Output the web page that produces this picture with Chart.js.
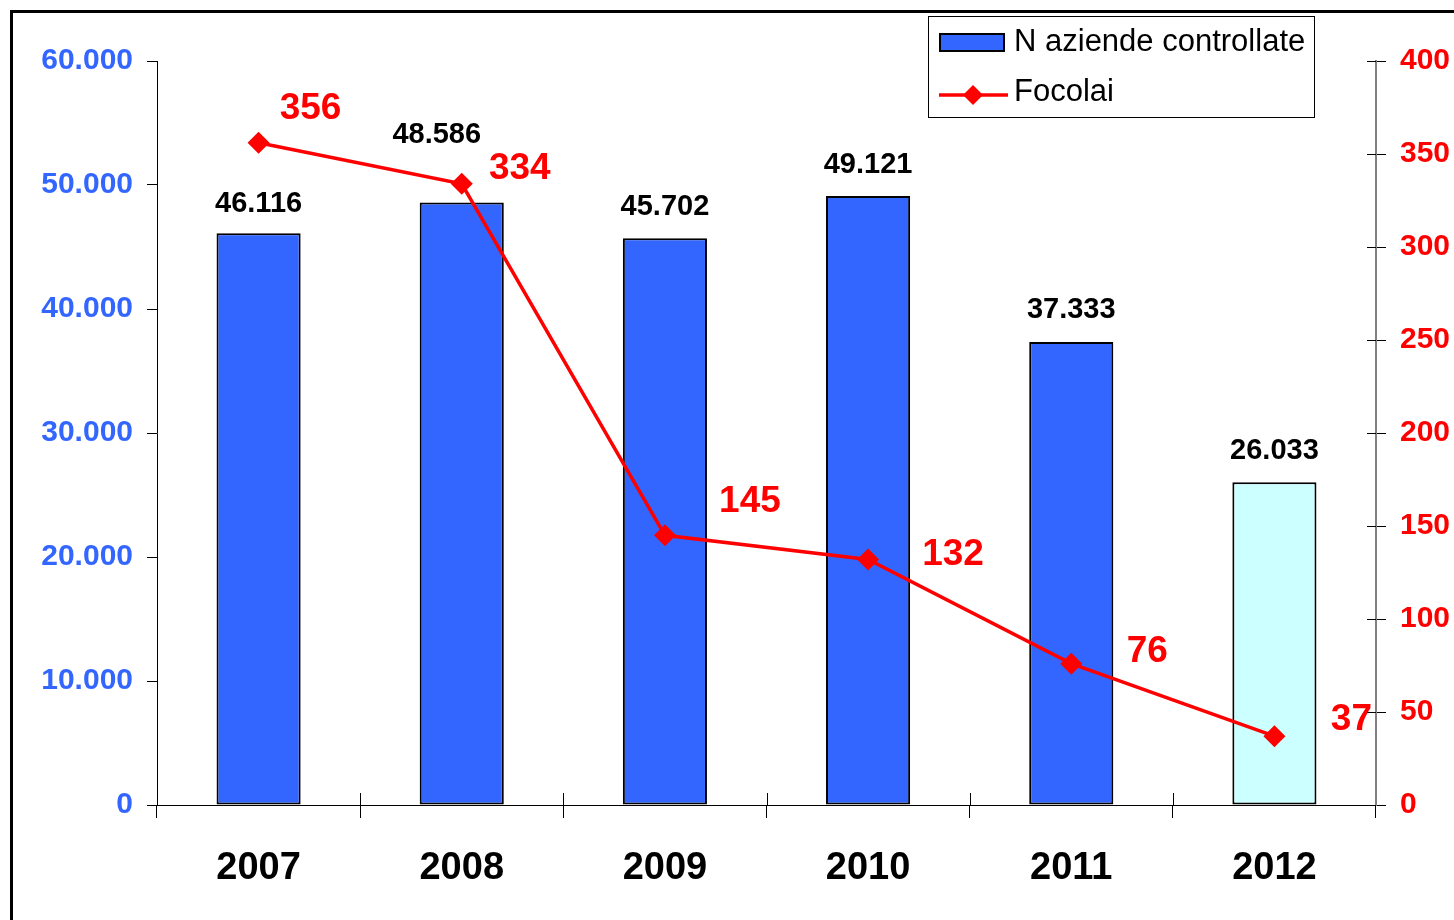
<!DOCTYPE html>
<html>
<head>
<meta charset="utf-8">
<script src="https://cdn.jsdelivr.net/npm/chart.js@4.4.1/dist/chart.umd.min.js"></script>
<style>
  html, body { margin: 0; padding: 0; background: #fff; }
  #wrap { width: 1454px; height: 920px; position: relative; }
</style>
</head>
<body>
<div id="wrap"><canvas id="c" width="1454" height="920"></canvas></div>
<script>
"use strict";

// ── Data ──────────────────────────────────────────────────────────────
const years     = ['2007', '2008', '2009', '2010', '2011', '2012'];
const aziende   = [46116, 48586, 45702, 49121, 37333, 26033];
const focolai   = [356, 334, 145, 132, 76, 37];
const leftTicks  = [0, 10000, 20000, 30000, 40000, 50000, 60000];
const rightTicks = [0, 50, 100, 150, 200, 250, 300, 350, 400];

// label nudges (px) relative to bar top / point centre
const barLabelOff  = [[0, -29], [-25, -68], [0, -31], [0, -31], [0, -32], [0, -31]];
const lineLabelOff = [[52, -34], [58, -15], [85, -34], [85, -5], [76, -12], [77, -16]];

const BLUE = '#3366ff';
const RED  = '#ff0000';
const FONT = '"Liberation Sans", Arial, sans-serif';

const fmt = v => String(v).replace(/\B(?=(\d{3})+(?!\d))/g, '.');

// ── Plugins ───────────────────────────────────────────────────────────
const decor = {
  id: 'decor',
  afterDatasetsDraw(chart) {
    const { ctx } = chart;
    ctx.save();
    // bar value labels
    ctx.font = 'bold 29px ' + FONT;
    ctx.fillStyle = '#000';
    ctx.textAlign = 'center';
    ctx.textBaseline = 'middle';
    chart.getDatasetMeta(0).data.forEach((el, i) => {
      const [dx, dy] = barLabelOff[i];
      ctx.fillText(fmt(aziende[i]), el.x + dx, el.y + dy);
    });
    // line value labels
    ctx.font = 'bold 37px ' + FONT;
    ctx.fillStyle = RED;
    chart.getDatasetMeta(1).data.forEach((el, i) => {
      const [dx, dy] = lineLabelOff[i];
      ctx.fillText(String(focolai[i]), el.x + dx, el.y + dy);
    });
    ctx.restore();
  },
  afterDraw(chart) {
    const { ctx } = chart;
    ctx.save();
    // outer frame
    ctx.strokeStyle = '#000';
    ctx.lineWidth = 3;
    ctx.beginPath();
    ctx.moveTo(11.5, 930); ctx.lineTo(11.5, 11.5); ctx.lineTo(1470, 11.5);
    ctx.stroke();

    // legend
    ctx.fillStyle = '#fff';
    ctx.fillRect(928, 16, 386, 101);
    ctx.lineWidth = 1;
    ctx.strokeRect(928.5, 16.5, 386, 101);
    ctx.fillStyle = BLUE;
    ctx.fillRect(940, 34, 64, 17);
    ctx.lineWidth = 2;
    ctx.strokeRect(940, 34, 64, 17);
    ctx.strokeStyle = RED;
    ctx.lineWidth = 3.5;
    ctx.beginPath(); ctx.moveTo(939, 95); ctx.lineTo(1008, 95); ctx.stroke();
    ctx.fillStyle = RED;
    ctx.beginPath();
    ctx.moveTo(973, 85); ctx.lineTo(983, 95); ctx.lineTo(973, 105); ctx.lineTo(963, 95);
    ctx.closePath(); ctx.fill();
    ctx.fillStyle = '#000';
    ctx.font = '31px ' + FONT;
    ctx.textAlign = 'left';
    ctx.textBaseline = 'middle';
    ctx.fillText('N aziende controllate', 1014, 42);
    ctx.fillText('Focolai', 1014, 92);

    // right-axis ticks crossing inward
    const y1 = chart.scales.y1;
    ctx.strokeStyle = '#000';
    ctx.lineWidth = 1;
    rightTicks.forEach(v => {
      const yp = Math.round(y1.getPixelForValue(v)) + 0.5;
      ctx.beginPath(); ctx.moveTo(y1.left - 9, yp); ctx.lineTo(y1.left, yp); ctx.stroke();
    });
    // x ticks crossing upward
    const base = chart.chartArea.bottom;
    for (let i = 1; i < years.length; i++) {
      const xp = Math.round(chart.chartArea.left + i * chart.chartArea.width / years.length) + 0.5;
      ctx.beginPath(); ctx.moveTo(xp, base - 12); ctx.lineTo(xp, base); ctx.stroke();
    }
    ctx.restore();
  }
};

// ── Chart ─────────────────────────────────────────────────────────────
const chart = new Chart(document.getElementById('c'), {
  data: {
    labels: years,
    datasets: [
      {
        type: 'bar',
        label: 'N aziende controllate',
        data: aziende,
        yAxisID: 'y',
        backgroundColor: aziende.map((v, i) => i === aziende.length - 1 ? '#ccffff' : BLUE),
        borderColor: '#000',
        borderWidth: 2,
        borderSkipped: false,
        barPercentage: 0.414,
        categoryPercentage: 1,
        order: 2
      },
      {
        type: 'line',
        label: 'Focolai',
        data: focolai,
        yAxisID: 'y1',
        borderColor: RED,
        backgroundColor: RED,
        borderWidth: 3.5,
        pointStyle: 'rectRot',
        pointRadius: 11,
        pointBorderWidth: 0,
        tension: 0,
        order: 1
      }
    ]
  },
  options: {
    responsive: false,
    animation: false,
    layout: { padding: { top: 61, left: 0, right: 0, bottom: 0 } },
    plugins: { legend: { display: false }, tooltip: { enabled: false } },
    scales: {
      x: {
        offset: true,
        grid: { offset: true, drawOnChartArea: false, color: '#000', tickLength: 13, lineWidth: 1 },
        border: { color: '#000', width: 1 },
        ticks: { color: '#000', font: { family: FONT, size: 38, weight: 'bold' }, padding: 28, maxRotation: 0 },
        afterFit: s => { s.height = 115; }
      },
      y: {
        position: 'left',
        min: 0, max: 60000,
        afterBuildTicks: s => { s.ticks = leftTicks.map(v => ({ value: v })); },
        grid: { drawOnChartArea: false, color: '#000', tickLength: 10 },
        border: { color: '#000', width: 1 },
        ticks: { color: BLUE, font: { family: FONT, size: 30, weight: 'bold' }, padding: 14, callback: v => fmt(v) },
        afterFit: s => { s.width = 157; }
      },
      y1: {
        position: 'right',
        min: 0, max: 400,
        afterBuildTicks: s => { s.ticks = rightTicks.map(v => ({ value: v })); },
        grid: { drawOnChartArea: false, color: '#000', tickLength: 10 },
        border: { color: '#808080', width: 2 },
        ticks: { color: RED, font: { family: FONT, size: 30, weight: 'bold' }, padding: 14 },
        afterFit: s => { s.width = 78; }
      }
    }
  },
  plugins: [decor]
});
</script>
</body>
</html>
